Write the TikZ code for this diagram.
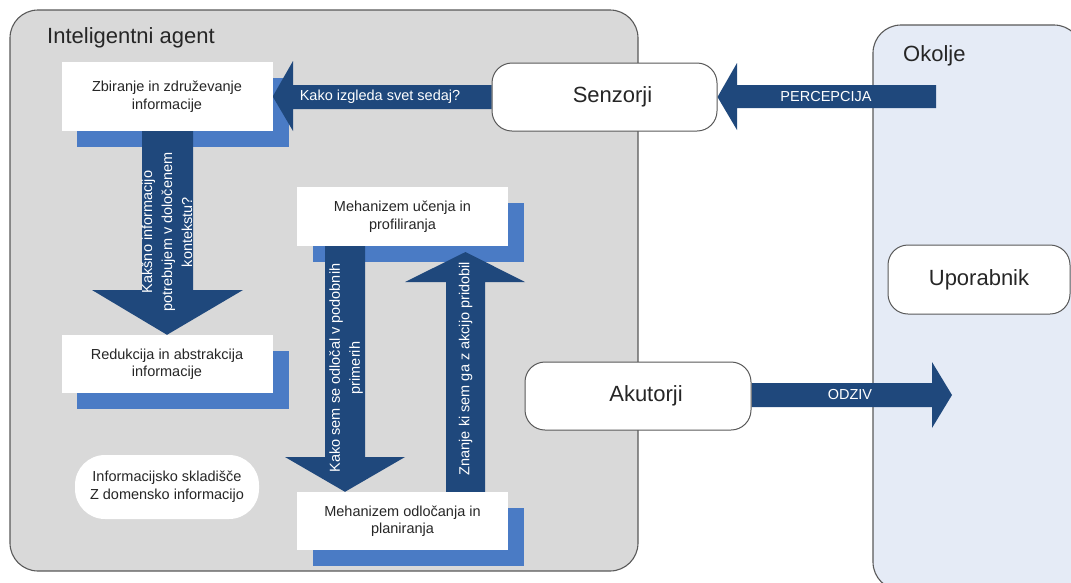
\documentclass[tikz,border=0pt]{standalone}
\usepackage{fontspec}
\setmainfont{Liberation Sans}
\usetikzlibrary{calc}
\definecolor{agentgray}{HTML}{D9D9D9}
\definecolor{envblue}{HTML}{E5EBF6}
\definecolor{edgegray}{HTML}{595959}
\definecolor{arrowblue}{HTML}{1F487C}
\definecolor{shadowblue}{HTML}{4A7BC5}
\definecolor{textgray}{HTML}{262626}
\pgfdeclarelayer{back}
\pgfdeclarelayer{mid}
\pgfsetlayers{back,mid,main}

\begin{document}
\begin{tikzpicture}[x=1pt,y=-1pt,
  procbox/.style={fill=white, inner sep=0pt, align=center, text=textgray,
    minimum width=211pt, minimum height=58pt,
    font=\fontsize{14.5}{17.5}\selectfont},
  portbox/.style={draw=edgegray, line width=1pt, fill=white, inner sep=0pt,
    rounded corners=20pt, text=textgray, font=\fontsize{22}{26}\selectfont},
  storebox/.style={fill=white, inner sep=0pt, rounded corners=30pt, align=center,
    text=textgray, minimum width=184pt, minimum height=64pt,
    font=\fontsize{14.5}{18}\selectfont},
  titletext/.style={inner sep=0pt, text=textgray, font=\fontsize{22}{26}\selectfont},
  arrowtext/.style={inner sep=0pt, text=white, align=center,
    font=\fontsize{14.5}{20}\selectfont},
  blockarrow/.style={fill=arrowblue},
  dropshadow/.style={fill=shadowblue}]

\useasboundingbox (0,0) rectangle (1071,582);

% white process boxes
\node[procbox, minimum height=69pt] (zbir) at (167,96.5) {Zbiranje in združevanje\\informacije};
\node[procbox] (redu) at (167,364) {Redukcija in abstrakcija\\informacije};
\node[procbox, minimum height=59pt] (ucen) at (402.5,216.5) {Mehanizem učenja in\\profiliranja};
\node[procbox] (odlo) at (402.5,521) {Mehanizem odločanja in\\planiranja};
\node[storebox] (sklad) at (167,487) {Informacijsko skladišče\\Z domensko informacijo};

% sensors, actuators, user
\node[portbox, minimum width=225pt, minimum height=68pt] (senz) at (604.5,97) {\hspace*{16pt}Senzorji};
\node[portbox, minimum width=226pt, minimum height=68pt] (akut) at (638,396) {\hspace*{16pt}Akutorji};
\node[portbox, minimum width=182pt, minimum height=69pt] (upor) at (979,279.5) {Uporabnik};

% titles of the two regions
\node[titletext, anchor=base west] (agtitle) at (47,43) {Inteligentni agent};
\node[titletext, anchor=base west] (envtitle) at (903,61.5) {Okolje};

\begin{pgfonlayer}{back}
  \clip (0,0) rectangle (1071,582);
  \draw[edgegray, fill=agentgray, line width=1.1pt, rounded corners=28pt]
    (10,10) rectangle (638,571);
  \draw[edgegray, fill=envblue, line width=1.1pt, rounded corners=28pt]
    (873,25) rectangle (1082,590);
  % offset shadows behind the process boxes
  \foreach \b in {zbir,redu,ucen,odlo}{
    \fill[dropshadow] ([shift={(16,16)}]\b.south west) rectangle ([shift={(16,16)}]\b.north east);
  }
\end{pgfonlayer}

\begin{pgfonlayer}{mid}
  \coordinate (percsrc) at (936,96.5);
  \coordinate (odzivend) at (952,395);
  % PERCEPCIJA: environment -> sensors
  \fill[blockarrow] (percsrc |- 0,85) -- (737,85) -- (737,63) -- (senz.east)
    -- (737,130) -- (737,108) -- (percsrc |- 0,108) -- cycle;
  \node[arrowtext] (perclbl) at (826,97) {PERCEPCIJA};
  % sensors -> gathering
  \fill[blockarrow] (senz.west |- 0,85) -- (293,85) -- (293,61) -- (zbir.east)
    -- (293,131) -- (293,109) -- (senz.west |- 0,109) -- cycle;
  \node[arrowtext] (svetlbl) at (380,97) {Kako izgleda svet sedaj?};
  % gathering -> reduction
  \fill[blockarrow] (142,0 |- zbir.south) -- (142,290) -- (92,290) -- (redu.north)
    -- (243,290) -- (193,290) -- (193,0 |- zbir.south) -- cycle;
  \node[arrowtext, rotate=90] (kontlbl) at (167,232) {Kakšno informacijo\\potrebujem v določenem\\kontekstu?};
  % learning -> decision
  \fill[blockarrow] (325,0 |- ucen.south) -- (325,457) -- (285,457) -- (345,0 |- odlo.north)
    -- (405,457) -- (365,457) -- (365,0 |- ucen.south) -- cycle;
  \node[arrowtext, rotate=90] (odllbl) at (346,368) {Kako sem se odločal v podobnih\\primerih};
  % decision -> learning
  \fill[blockarrow] (446,0 |- odlo.north) -- (446,282) -- (405,282) -- (465.5,252)
    -- (525,282) -- (485,282) -- (485,0 |- odlo.north) -- cycle;
  \node[arrowtext, rotate=90] (znlbl) at (465.5,368.5) {Znanje ki sem ga z akcijo pridobil};
  % ODZIV: actuators -> environment
  \fill[blockarrow] (akut.east |- 0,383) -- (932,383) -- (932,362) -- (odzivend)
    -- (932,428) -- (932,407) -- (akut.east |- 0,407) -- cycle;
  \node[arrowtext] (odzlbl) at (850,395) {ODZIV};
\end{pgfonlayer}
\end{tikzpicture}
\end{document}
